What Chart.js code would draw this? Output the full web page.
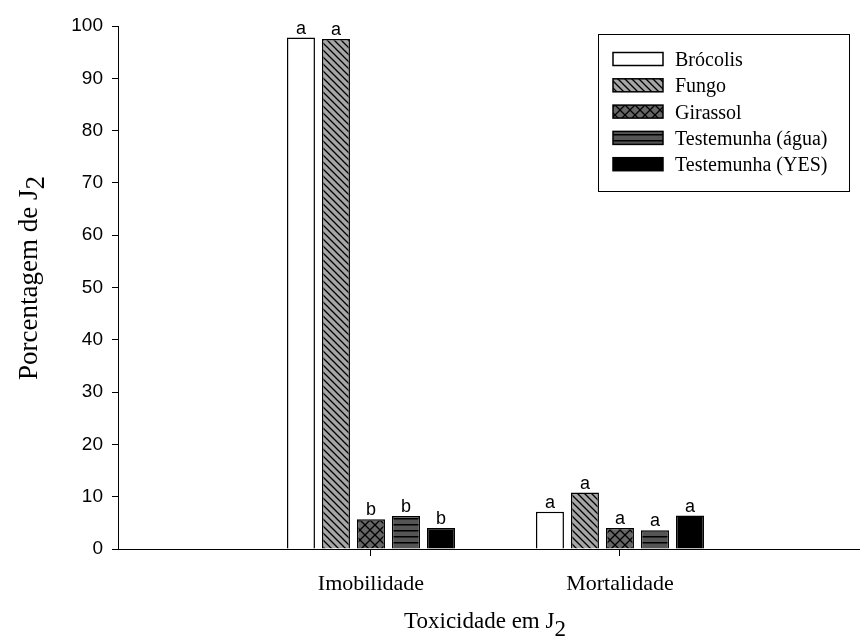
<!DOCTYPE html>
<html><head><meta charset="utf-8">
<script src="https://cdn.jsdelivr.net/npm/chart.js@4"></script>
<style>html,body{margin:0;padding:0;background:#fff}#wrap{width:860px;height:644px}</style>
</head><body><div id="wrap"><canvas id="c" width="860" height="644"></canvas></div>
<script>
const categories = ['Imobilidade', 'Mortalidade'];
const seriesNames = ['Brócolis', 'Fungo', 'Girassol', 'Testemunha (água)', 'Testemunha (YES)'];
const brocolis = [97.8, 7.1];
const fungo = [97.5, 10.8];
const girassol = [5.7, 4.0];
const testAgua = [6.3, 3.6];
const testYes = [4.0, 6.4];
const letters = [['a', 'a'], ['a', 'a'], ['b', 'a'], ['b', 'a'], ['b', 'a']];
const yTicks = [0, 10, 20, 30, 40, 50, 60, 70, 80, 90, 100];
const yTitle = ['Porcentagem de J', '2'];
const xTitle = ['Toxicidade em J', '2'];

const canvas = document.getElementById('c');
const mctx = canvas.getContext('2d');

function makePattern(bg, size, draw) {
  const c = document.createElement('canvas');
  c.width = size; c.height = size;
  const x = c.getContext('2d');
  x.fillStyle = bg; x.fillRect(0, 0, size, size);
  x.strokeStyle = '#000'; x.fillStyle = '#000'; x.lineWidth = 1.3;
  draw(x, size);
  return mctx.createPattern(c, 'repeat');
}
const diag = (x, s) => { x.beginPath(); x.moveTo(-1, -1); x.lineTo(s + 1, s + 1); x.moveTo(-2, s - 2); x.lineTo(2, s + 2); x.moveTo(s - 2, -2); x.lineTo(s + 2, 2); x.stroke(); };
const cross = (x, s) => { diag(x, s); x.beginPath(); x.moveTo(s + 1, -1); x.lineTo(-1, s + 1); x.moveTo(-2, 2); x.lineTo(2, -2); x.moveTo(s - 2, s + 2); x.lineTo(s + 2, s - 2); x.stroke(); };
const horiz = (x, s) => { x.fillRect(0, 2, s, 1.5); };

const fills = [
  '#ffffff',
  makePattern('#a6a6a6', 7, diag),
  makePattern('#666666', 10, cross),
  makePattern('#555555', 6, horiz),
  '#000000'
];
const seriesValues = [brocolis, fungo, girassol, testAgua, testYes];

const datasets = seriesNames.map((name, i) => ({
  label: name,
  data: categories.map((c, j) => ({ x: j + 1, y: seriesValues[i][j] })),
  backgroundColor: fills[i],
  borderColor: '#000',
  borderWidth: 1.5,
  categoryPercentage: 0.703,
  barPercentage: 0.8
}));

const serif = '"Liberation Serif", "Times New Roman", serif';
const sans = '"Liberation Sans", Arial, sans-serif';

const decor = {
  id: 'decor',
  afterDraw(chart) {
    const ctx = chart.ctx;
    ctx.save();
    ctx.fillStyle = '#000';
    ctx.font = '18px ' + sans;
    ctx.textAlign = 'center';
    ctx.textBaseline = 'alphabetic';
    chart.data.datasets.forEach((ds, i) => {
      chart.getDatasetMeta(i).data.forEach((bar, j) => {
        ctx.fillText(letters[i][j], bar.x, bar.y - 4);
      });
    });
    const lx = 598.5, ly = 34.5, lw = 251, lh = 157;
    ctx.lineWidth = 1; ctx.strokeStyle = '#000';
    ctx.fillStyle = '#fff';
    ctx.fillRect(lx, ly, lw, lh);
    ctx.strokeRect(lx, ly, lw, lh);
    ctx.font = '20px ' + serif;
    ctx.textAlign = 'left'; ctx.textBaseline = 'alphabetic';
    seriesNames.forEach((name, i) => {
      const cy = 59 + i * 26.3;
      ctx.fillStyle = fills[i];
      ctx.fillRect(613, cy - 6.5, 50, 13);
      ctx.lineWidth = 1.5;
      ctx.strokeRect(613, cy - 6.5, 50, 13);
      ctx.fillStyle = '#000';
      ctx.fillText(name, 675, cy + 7);
    });
    ctx.font = '27px ' + serif;
    ctx.textAlign = 'left';
    let w1 = ctx.measureText(yTitle[0]).width, w2 = ctx.measureText(yTitle[1]).width;
    ctx.save();
    ctx.translate(37, 278);
    ctx.rotate(-Math.PI / 2);
    ctx.fillText(yTitle[0], -(w1 + w2) / 2, 0);
    ctx.fillText(yTitle[1], -(w1 + w2) / 2 + w1, 7);
    ctx.restore();
    ctx.font = '23px ' + serif;
    w1 = ctx.measureText(xTitle[0]).width; w2 = ctx.measureText(xTitle[1]).width;
    ctx.fillText(xTitle[0], 485 - (w1 + w2) / 2, 628);
    ctx.fillText(xTitle[1], 485 - (w1 + w2) / 2 + w1, 636);
    ctx.restore();
  }
};

new Chart(canvas, {
  type: 'bar',
  data: { datasets },
  plugins: [decor],
  options: {
    responsive: false,
    animation: false,
    devicePixelRatio: 1,
    layout: { padding: { top: 26, right: 1, bottom: 0, left: 0 } },
    plugins: { legend: { display: false }, tooltip: { enabled: false } },
    scales: {
      x: {
        type: 'linear',
        offset: false,
        min: -0.016,
        max: 2.96,
        afterBuildTicks: (s) => { s.ticks = categories.map((c, j) => ({ value: j + 1 })); },
        afterFit: (s) => { s.height = 95; },
        ticks: {
          autoSkip: false, maxRotation: 0, color: '#000', padding: 15,
          font: { family: serif, size: 22 },
          callback: (v) => categories[v - 1] ?? ''
        },
        grid: { offset: false, drawOnChartArea: false, color: '#000', tickLength: 7, lineWidth: 1 },
        border: { display: true, color: '#000', width: 1 }
      },
      y: {
        min: 0, max: 100,
        afterBuildTicks: (s) => { s.ticks = yTicks.map(v => ({ value: v })); },
        afterFit: (s) => { s.width = 118; },
        ticks: {
          color: '#000', padding: 9,
          font: { family: sans, size: 19 }
        },
        grid: { drawOnChartArea: false, color: '#000', tickLength: 6, lineWidth: 1 },
        border: { display: true, color: '#000', width: 1 }
      }
    }
  }
});
</script>
</body></html>
